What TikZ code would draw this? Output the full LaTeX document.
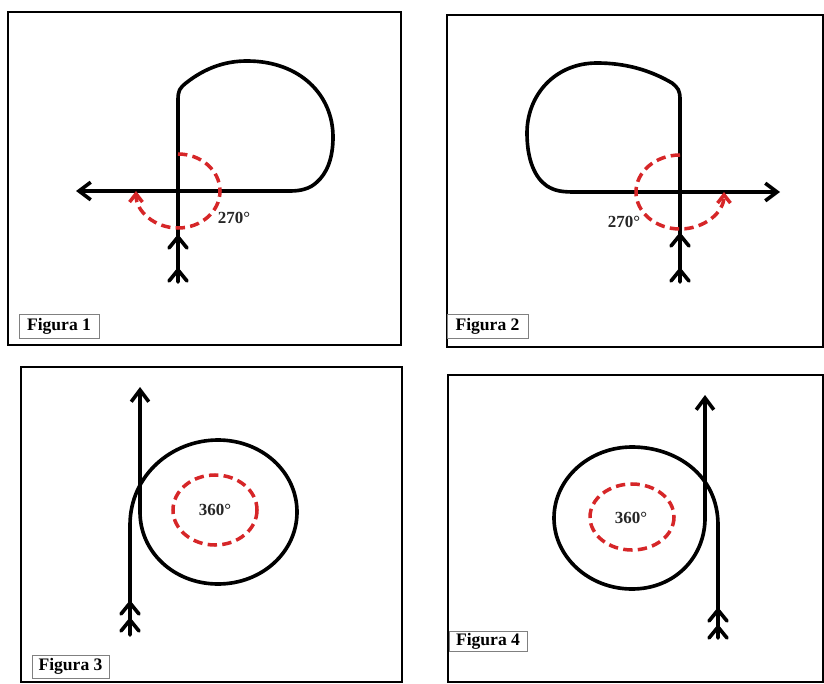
\documentclass[tikz,border=0pt]{standalone}
\usepackage{fontspec}
\setmainfont{Liberation Serif}
\usetikzlibrary{arrows.meta}

\definecolor{drehrot}{RGB}{214,38,40}
\tikzset{
  bahn/.style={line width=3.1pt, line join=round, line cap=round},
  drehung/.style={drehrot, line width=3pt, dash pattern=on 8pt off 4.5pt},
  rahmen/.style={line width=1.5pt},
  schild/.style={draw=gray, line width=0.6pt, fill=white, font=\bfseries\fontsize{15}{17}\selectfont, inner sep=0pt},
  winkel/.style={font=\bfseries\fontsize{14.5}{16}\selectfont, text=black!85}
}
\newcommand\feder[2]{\draw[bahn] ({#1-9},{#2+11}) -- (#1,#2) -- ({#1+9},{#2+11});}

\begin{document}
\begin{tikzpicture}[x=0.03cm,y=-0.03cm]
		\useasboundingbox (0,0) rectangle (824,684);
		
		%Rahmen
		\draw[rahmen] (8,12) rectangle (401,345);
		\draw[rahmen] (447,15) rectangle (823,347);
		\draw[rahmen] (21,367) rectangle (402,682);
		\draw[rahmen] (448,375) rectangle (823,682);
		
		%Figura 1
		\draw[bahn,-{Straight Barb[length=10pt,width=15pt]}] (178,282) -- (178,100) .. controls (178,90) and (180,88) .. (186,83) .. controls (205,68) and (225,61) .. (247,61) .. controls (300,61) and (333,95) .. (333,137) .. controls (333,160) and (326,174) .. (317,182) .. controls (310,189) and (300,191) .. (290,191) -- (76,191);
		\feder{178}{237}
		\feder{178}{270}
		\draw[drehung,-{Straight Barb[length=7pt,width=11pt]}] (178,154) arc[start angle=-90,end angle=180,x radius=42,y radius=37];
		\node[winkel] (w1) at (234,218) {270°};
		\node[schild,minimum width=2.4cm,minimum height=0.72cm] (f1) at (59,326) {Figura 1};
		
		%Figura 2
		\draw[bahn,-{Straight Barb[length=10pt,width=15pt]}] (680,282) -- (680,100) .. controls (680,90) and (678,88) .. (672,83) .. controls (650,70) and (625,63) .. (597,63) .. controls (555,63) and (527,95) .. (527,133) .. controls (527,160) and (535,178) .. (547,186) .. controls (555,191) and (562,192) .. (575,192) -- (780,192);
		\feder{680}{235}
		\feder{680}{270}
		\draw[drehung,-{Straight Barb[length=7pt,width=11pt]}] (680,155) arc[start angle=-90,end angle=-360,x radius=44,y radius=37];
		\node[winkel] (w2) at (624,222) {270°};
		\node[schild,minimum width=2.43cm,minimum height=0.72cm] (f2) at (487.5,326.5) {Figura 2};
		
		%Figura 3
		\draw[bahn,-{Straight Barb[length=10pt,width=15pt]}] (130,635) -- (130,525) .. controls (130,475) and (172,440) .. (218,440) .. controls (262,440) and (297,472) .. (297,512) .. controls (297,552) and (262,584) .. (218,584) .. controls (174,584) and (140,552) .. (140,512) -- (140,387);
		\feder{130}{603}
		\feder{130}{620}
		\draw[drehung] (215,510) ellipse[x radius=42,y radius=35];
		\node[winkel] (w3) at (215,510) {360°};
		\node[schild,minimum width=2.31cm,minimum height=0.69cm] (f3) at (70.5,666.5) {Figura 3};
		
		%Figura 4
		\draw[bahn,-{Straight Barb[length=10pt,width=15pt]}] (718,638) -- (718,525) .. controls (718,475) and (676,447) .. (632,447) .. controls (589,447) and (554,479) .. (554,518) .. controls (554,557) and (589,589) .. (632,589) .. controls (675,589) and (705,557) .. (705,518) -- (705,395);
		\feder{718}{610}
		\feder{718}{627}
		\draw[drehung] (632,517) ellipse[x radius=42,y radius=33];
		\node[winkel] (w4) at (631,518) {360°};
		\node[schild,minimum width=2.34cm,minimum height=0.6cm] (f4) at (488,641) {Figura 4};
\end{tikzpicture}
\end{document}
